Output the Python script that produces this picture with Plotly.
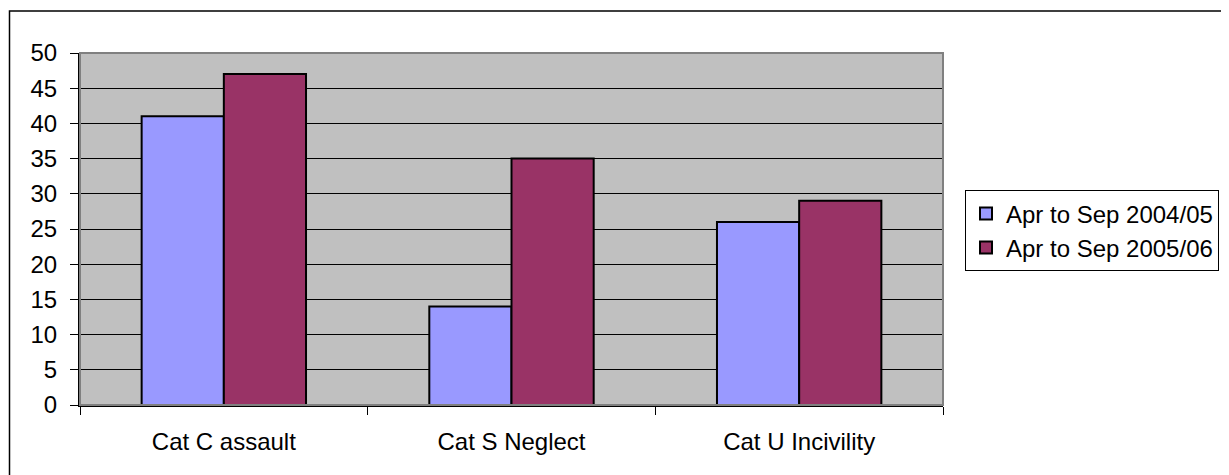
import plotly.graph_objects as go

categories = ["Cat C assault", "Cat S Neglect", "Cat U Incivility"]
series_names = ["Apr to Sep 2004/05", "Apr to Sep 2005/06"]
values_2004 = [41, 14, 26]
values_2005 = [47, 35, 29]
y_ticks = [0, 5, 10, 15, 20, 25, 30, 35, 40, 45, 50]

FONT = "Liberation Sans, Arial, sans-serif"
FS = 24
OFF = 8  # page body margin
W, H = 1229, 475
# target pixel positions in the screenshot
PL, PR, PT, PB = 80, 943, 52.5, 405
L = PL - OFF
T = PT - OFF
pw = PR - PL
ph = PB - PT
R = W - L - pw
B = H - T - ph

fig = go.Figure()
fig.add_trace(go.Bar(x=categories, y=values_2004, name=series_names[0],
                     marker=dict(color="#9999FF", line=dict(color="black", width=2))))
fig.add_trace(go.Bar(x=categories, y=values_2005, name=series_names[1],
                     marker=dict(color="#993366", line=dict(color="black", width=2))))

def px_x(p):
    return (p - PL) / pw

def px_y(p):
    return (PB - p) / ph

fig.update_layout(
    width=W, height=H,
    margin=dict(l=L, r=R, t=T, b=B, autoexpand=False),
    paper_bgcolor="white",
    plot_bgcolor="#C0C0C0",
    barmode="group",
    bargap=1.5 / 3.5,
    bargroupgap=0,
    font=dict(family=FONT, size=FS, color="black"),
    showlegend=True,
    legend=dict(
        x=px_x(965), y=px_y(190), xanchor="left", yanchor="top",
        bgcolor="white", bordercolor="black", borderwidth=1,
        font=dict(family=FONT, size=FS, color="black"),
        itemwidth=30,
    ),
    xaxis=dict(
        type="category", range=[-0.5, 2.5],
        showline=True, linecolor="black", linewidth=2,
        ticks="outside", tickson="boundaries", ticklen=8, tickcolor="black", tickwidth=1,
        showgrid=False, ticklabelstandoff=14,
        tickfont=dict(family=FONT, size=FS, color="black"),
    ),
    yaxis=dict(
        range=[0, 50], tickvals=y_ticks, ticktext=[str(v) for v in y_ticks],
        showline=True, linecolor="black", linewidth=2,
        ticks="outside", ticklen=8, tickcolor="black", tickwidth=1,
        showgrid=True, gridcolor="black", gridwidth=1,
        zeroline=False, ticklabelstandoff=8,
        tickfont=dict(family=FONT, size=FS, color="black"),
    ),
    shapes=[
        dict(type="rect", xref="paper", yref="paper", x0=0, x1=1, y0=0, y1=1,
             line=dict(color="#808080", width=2), layer="above"),
        dict(type="rect", xref="paper", yref="paper",
             x0=px_x(9.5), x1=px_x(1260), y0=px_y(10.5), y1=px_y(500),
             line=dict(color="black", width=1.5), layer="below"),
    ],
)

fig.write_html("out.html")
